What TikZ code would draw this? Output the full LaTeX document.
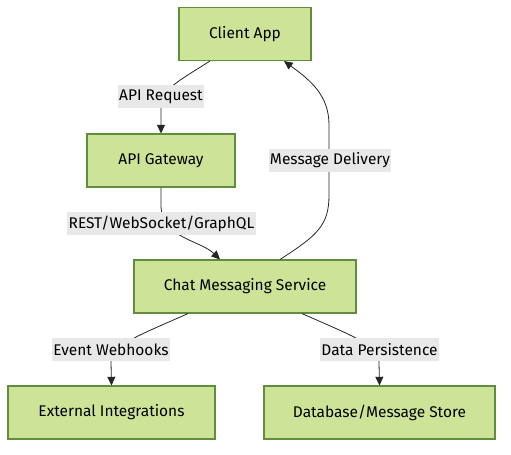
\documentclass[tikz,border=0pt]{standalone}
\usepackage{fontspec}
\setmainfont{Fira Sans}
\usetikzlibrary{arrows.meta,calc}
\definecolor{nodefill}{HTML}{CDE498}
\definecolor{nodestroke}{HTML}{5F8F3E}
\definecolor{lblfill}{HTML}{E8E8E8}
\tikzset{
  box/.style={draw=nodestroke, fill=nodefill, line width=0.8pt, rectangle, minimum height=39.75pt, inner sep=0pt, font=\fontsize{11.6}{13}\selectfont, text=black},
  lbl/.style={fill=lblfill, inner sep=1pt, minimum height=17.25pt, font=\fontsize{11.6}{13}\selectfont, text=black},
  conn/.style={draw=black!85, line width=0.6pt, -{Triangle[length=6.5pt,width=6pt]}}
}
\begin{document}
\begin{tikzpicture}[x=0.75pt,y=-0.75pt]
\useasboundingbox (0,0) rectangle (511,454);
\node[box, minimum width=99pt] (client) at (245,34) {Client App};
\node[box, minimum width=111pt] (gw) at (161,160.5) {API Gateway};
\node[box, minimum width=166.5pt] (chat) at (245,286.5) {Chat Messaging Service};
\node[box, minimum width=155.25pt] (ext) at (111.5,412.5) {External Integrations};
\node[box, minimum width=173.25pt] (db) at (379.5,412.5) {Database/Message Store};

\draw[conn] ($(client.south)+(-35,0)$) .. controls (180,80) and (161,90) .. (161,105) -- (gw.north);
\draw[conn] (gw.south) -- (161,205) .. controls (161,238) and (200,240) .. ($(chat.north)+(-25,0)$);
\draw[conn] ($(chat.north)+(35,0)$) .. controls (318,235) and (329,225) .. (329,195) -- (329,125) .. controls (329,95) and (310,80) .. ($(client.south)+(39,0)$);
\draw[conn] ($(chat.south)+(-57,0)$) .. controls (140,335) and (111,345) .. (111,362) -- (ext.north);
\draw[conn] ($(chat.south)+(57,0)$) .. controls (350,335) and (379,345) .. (379,362) -- (db.north);

\node[lbl] (l1) at (161,96.5) {API Request};
\node[lbl] (l2) at (161.5,223.5) {REST/WebSocket/GraphQL};
\node[lbl] (l3) at (330,160.5) {Message Delivery};
\node[lbl] (l4) at (111,349.5) {Event Webhooks};
\node[lbl] (l5) at (379.5,349.5) {Data Persistence};
\end{tikzpicture}
\end{document}
